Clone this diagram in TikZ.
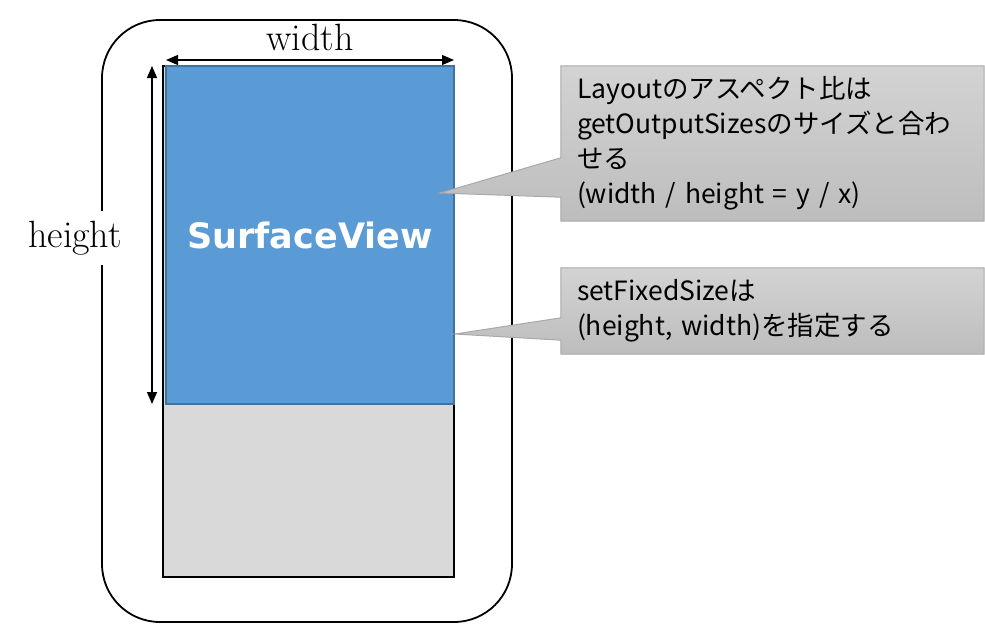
\documentclass[tikz,border=0pt]{standalone}
\usepackage{fontspec}
\newfontfamily\jpfont{Noto Sans CJK JP}
\newfontfamily\svfont{DejaVu Sans}
\usetikzlibrary{arrows.meta}
\pgfdeclarelayer{bglayer}
\pgfdeclarelayer{midlayer}
\pgfsetlayers{bglayer,midlayer,main}
\definecolor{svblue}{HTML}{5B9BD5}
\definecolor{svborder}{HTML}{41719C}
\definecolor{scrgray}{HTML}{D9D9D9}
\definecolor{cotop}{HTML}{D3D3D3}
\definecolor{cobot}{HTML}{BDBDBD}
\definecolor{coline}{HTML}{A9A9A9}
\tikzset{
  phonebox/.style={draw=black, line width=1.8pt, fill=white, rounded corners=58pt, minimum width=410pt, minimum height=602pt, inner sep=0pt},
  screenbox/.style={draw=black, line width=2.2pt, fill=scrgray, minimum width=291pt, minimum height=511pt, inner sep=0pt},
  surfbox/.style={draw=svborder, line width=1.5pt, fill=svblue, minimum width=288pt, minimum height=338pt, inner sep=0pt, text=white, font=\svfont\bfseries\fontsize{35}{40}\selectfont},
  dimlabel/.style={font=\fontsize{38}{42}\selectfont, inner sep=0pt},
  dimarrow/.style={line width=1.3pt, {Triangle[length=12pt,width=10pt]}-{Triangle[length=12pt,width=10pt]}},
  cotext/.style={font=\jpfont\fontsize{26.5}{35}\selectfont, align=left, text width=391pt, inner xsep=16pt, inner ysep=0pt, minimum width=423pt, anchor=center},
  coshape/.style={draw=coline, line width=1pt, top color=cotop, bottom color=cobot},
}
\begin{document}
\begin{tikzpicture}[x=1pt,y=-1pt]
\useasboundingbox (0,0) rectangle (985,624);
\begin{pgfonlayer}{bglayer}
\node[phonebox] (phone) at (307,321) {};
\node[screenbox] (screen) at (308.5,321.5) {};
\node[surfbox] (surface) at (310,235) {SurfaceView};
\end{pgfonlayer}
% dimension arrows
\coordinate (wl) at (166,60);
\coordinate (wr) at (454,60);
\coordinate (ht) at (152,66);
\coordinate (hb) at (152,404);
\draw[dimarrow] (wl) -- (wr);
\draw[dimarrow] (ht) -- (hb);
\node[dimlabel] (wlabel) at (310,37) {width};
\node[dimlabel, fill=white, inner xsep=2pt, inner ysep=10pt] (hlabel) at (75,238) {height};
% callouts
\node[cotext, minimum height=155pt] (co1) at (772.5,143.5) {Layoutのアスペクト比は\\getOutputSizesのサイズと合わ\\せる\\(width / height = y / x)};
\node[cotext, minimum height=86pt] (co2) at (772.5,311) {setFixedSizeは\\(height, width)を指定する};
\coordinate (tip1) at (440,193);
\coordinate (tip2) at (455,334);
\begin{pgfonlayer}{midlayer}
\path[coshape] (co1.north west) -- (co1.north east) -- (co1.south east) -- (co1.south west)
  -- ([yshift=24pt]co1.south west) -- (tip1) -- ([yshift=-92pt]co1.north west) -- cycle;
\path[coshape] (co2.north west) -- (co2.north east) -- (co2.south east) -- (co2.south west)
  -- ([yshift=14pt]co2.south west) -- (tip2) -- ([yshift=-50pt]co2.north west) -- cycle;
\end{pgfonlayer}
\end{tikzpicture}
\end{document}
